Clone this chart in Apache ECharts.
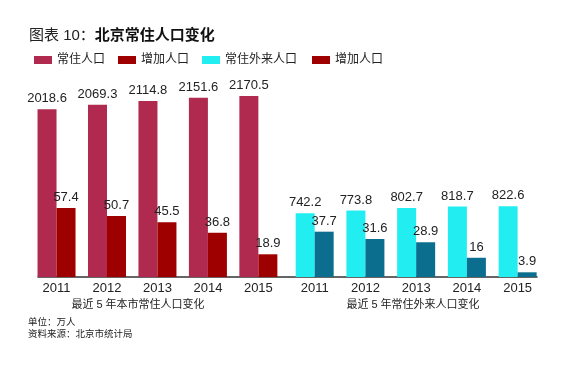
<!DOCTYPE html>
<html><head><meta charset="utf-8">
<script src="https://cdn.jsdelivr.net/npm/echarts@6/dist/echarts.min.js"></script>
<style>html,body{margin:0;padding:0;background:#fff;}#c{width:564px;height:366px;}</style>
</head><body><div id="c"></div>
<script>
const years = ['2011', '2012', '2013', '2014', '2015'];
const cityPop = [2018.6, 2069.3, 2114.8, 2151.6, 2170.5];
const cityInc = [57.4, 50.7, 45.5, 36.8, 18.9];
const migrantPop = [742.2, 773.8, 802.7, 818.7, 822.6];
const migrantInc = [37.7, 31.6, 28.9, 16, 3.9];
const groupNames = ['最近 5 年本市常住人口变化', '最近 5 年常住外来人口变化'];

const FF = "'Liberation Sans', 'Noto Sans CJK SC', sans-serif";
const C_CITY = '#B0294F', C_CITYINC = '#9E0000', C_MIG = '#22EEF2', C_MIGINC = '#0B6E8E';

const chart = echarts.init(document.getElementById('c'));
const hiddenY = (min, max, grid) => ({type: 'value', gridIndex: grid, min, max, show: false});
const catX = (grid) => ({
  type: 'category', gridIndex: grid, data: years,
  axisLine: {show: false}, axisTick: {show: false},
  axisLabel: {margin: 5, fontSize: 13, color: '#222', fontFamily: FF}
});
const lbl = {show: true, position: 'top', distance: 4, fontSize: 13, color: '#222', fontFamily: FF};

chart.setOption({
  animation: false,
  textStyle: {fontFamily: FF},
  title: [
    {text: '{a|图表 10：}{b|北京常住人口变化}', left: 29, top: 28, padding: 0,
     textStyle: {fontWeight: 'normal', rich: {a: {fontSize: 15, fontWeight: 'normal', color: '#222', fontFamily: FF}, b: {fontSize: 15, fontWeight: 'bold', color: '#111', fontFamily: FF}}}},
    {text: groupNames[0], left: 138, top: 299, padding: 0, textAlign: 'center', textStyle: {fontSize: 11, fontWeight: 'normal', color: '#222'}},
    {text: groupNames[1], left: 413, top: 299, padding: 0, textAlign: 'center', textStyle: {fontSize: 11, fontWeight: 'normal', color: '#222'}},
    {text: '单位：万人', left: 28, top: 318, padding: 0, textStyle: {fontSize: 9.5, fontWeight: 'normal', color: '#222'}},
    {text: '资料来源：北京市统计局', left: 28, top: 330, padding: 0, textStyle: {fontSize: 9.5, fontWeight: 'normal', color: '#222'}}
  ],
  legend: [
    {left: 29, top: 49, itemWidth: 18, itemHeight: 8, itemGap: 13, icon: 'rect',
     textStyle: {fontSize: 12, color: '#222'},
     data: ['常住人口', '增加人口', '常住外来人口']},
    {left: 307, top: 49, itemWidth: 18, itemHeight: 8, icon: 'rect',
     textStyle: {fontSize: 12, color: '#222'},
     data: ['增加人口']}
  ],
  grid: [
    {left: 31.3, width: 252.3, top: 57, bottom: 89},
    {left: 289.3, width: 253.7, top: 57, bottom: 89},
    {left: 38, right: 27, top: 57, bottom: 89}
  ],
  xAxis: [
    catX(0), catX(1),
    {type: 'value', gridIndex: 2, min: 0, max: 1, axisLine: {show: true, onZero: false, lineStyle: {color: '#333', width: 1.5}},
     axisTick: {show: false}, axisLabel: {show: false}, splitLine: {show: false}}
  ],
  yAxis: [
    hiddenY(100, 2617, 0),
    hiddenY(0, 183, 0),
    hiddenY(0, 2558, 1),
    hiddenY(0, 183, 1),
    hiddenY(0, 1, 2)
  ],
  series: [
    {name: '常住人口', type: 'bar', xAxisIndex: 0, yAxisIndex: 0, data: cityPop, barWidth: 19, barGap: '0%', itemStyle: {color: C_CITY}, label: lbl},
    {name: '增加人口', type: 'bar', xAxisIndex: 0, yAxisIndex: 1, data: cityInc, barWidth: 19, barGap: '0%', itemStyle: {color: C_CITYINC}, label: lbl},
    {name: '常住外来人口', type: 'bar', xAxisIndex: 1, yAxisIndex: 2, data: migrantPop, barWidth: 19, barGap: '0%', itemStyle: {color: C_MIG}, label: lbl},
    {name: '增加人口', type: 'bar', xAxisIndex: 1, yAxisIndex: 3, data: migrantInc, barWidth: 19, barGap: '0%', itemStyle: {color: C_MIGINC}, label: lbl}
  ]
});
</script></body></html>
